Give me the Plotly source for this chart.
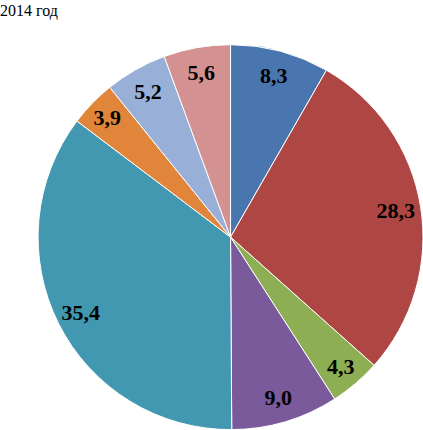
import plotly.graph_objects as go

# доли, % (2014 год)
labels = ['A', 'B', 'C', 'D', 'E', 'F', 'G', 'H']
values = [8.3, 28.3, 4.3, 9.0, 35.4, 3.9, 5.2, 5.6]
colors = ['#4A76B0', '#AE4643', '#8DAE52', '#7A5A9B',
          '#4298B0', '#E0853A', '#98B0D8', '#D39291']

dom = dict(x=[0.09, 1.0], y=[0.0, 0.897])

# сам круг
pie = go.Pie(
    labels=labels, values=values, sort=False, direction='clockwise',
    rotation=0, domain=dom,
    marker=dict(colors=colors, line=dict(color='white', width=1)),
    textinfo='none', hoverinfo='skip', showlegend=False,
)

# прозрачное кольцо только для подписей у края
ring = go.Pie(
    labels=labels, values=values, sort=False, direction='clockwise',
    rotation=0, domain=dom, hole=0.74,
    marker=dict(colors=['rgba(0,0,0,0)'] * len(values), line=dict(width=0)),
    texttemplate='%{value:.1f}', textposition='inside',
    insidetextorientation='horizontal',
    textfont=dict(family='Liberation Serif', size=22, color='black', weight='bold'),
    hoverinfo='skip', showlegend=False,
)

fig = go.Figure(data=[pie, ring])
fig.update_layout(
    width=423, height=430,
    margin=dict(l=0, r=0, t=0, b=0),
    paper_bgcolor='white',
    separators=', ',
    uniformtext=dict(minsize=22, mode='show'),
    annotations=[dict(text='2014 год', x=0, y=1, xref='paper', yref='paper',
                      xanchor='left', yanchor='top', showarrow=False, xshift=-2,
                      font=dict(family='Liberation Serif', size=16, color='black'))],
)
fig.write_html('out.html', config={'displayModeBar': False},
               post_script="document.body.style.margin='0';")
